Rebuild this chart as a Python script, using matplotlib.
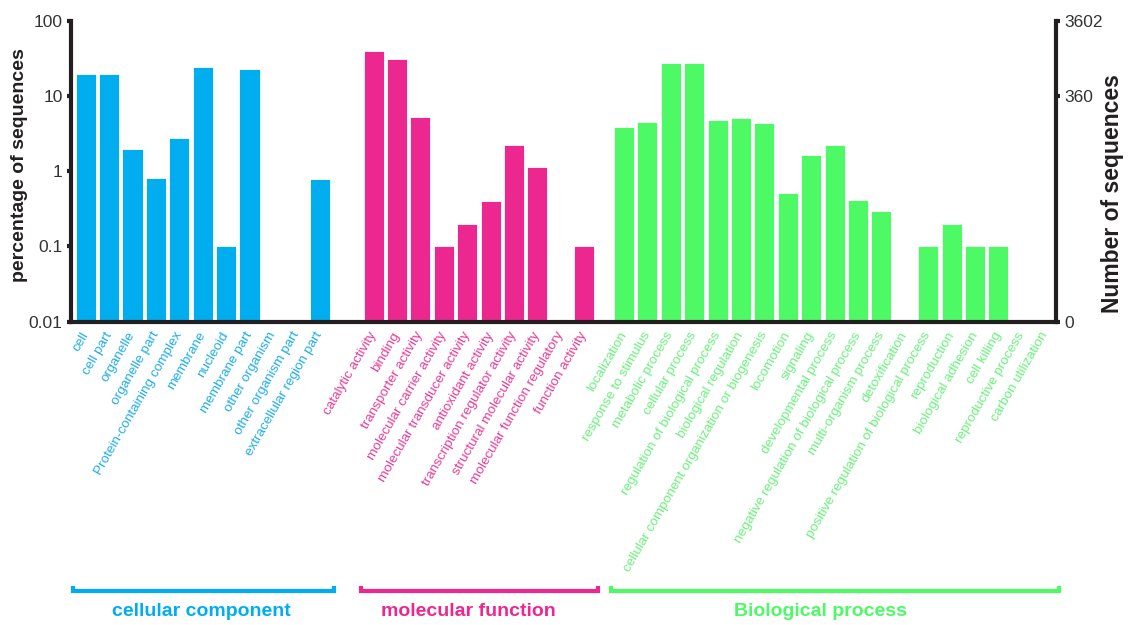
import numpy as np
import matplotlib
matplotlib.use("Agg")
import matplotlib.pyplot as plt
from matplotlib.transforms import blended_transform_factory, ScaledTranslation
from matplotlib.lines import Line2D

plt.rcParams['font.family'] = ['Liberation Sans', 'DejaVu Sans']

# GO categories (percentage of sequences); 0 means no sequences
cc_terms = ["cell", "cell part", "organelle", "organelle part",
            "Protein-containing complex", "membrane", "nucleoid",
            "membrane part", "other organism", "other organism part",
            "extracellular region part"]
cc_pct = [19.6, 19.3, 2.0, 0.82, 2.75, 24.6, 0.1, 22.7, 0, 0, 0.79]

mf_terms = ["catalytic activity", "binding", "transporter activity",
            "molecular carrier activity", "molecular transducer activity",
            "antioxidant activity", "transcription regulator activity",
            "structural molecular activity", "molecular function regulatory",
            "function activity"]
mf_pct = [40.1, 30.8, 5.2, 0.1, 0.2, 0.4, 2.24, 1.13, 0, 0.1]

bp_terms = ["localization", "response to stimulus", "metabolic process",
            "cellular process", "regulation of biological process",
            "biological regulation",
            "cellular component organization or biogenesis", "locomotion",
            "signaling", "developmental process",
            "negative regulation of biological process",
            "multi-organism process", "detoxification",
            "positive regulation of biological process", "reproduction",
            "biological adhesion", "cell killing", "reproductive process",
            "carbon utilization"]
bp_pct = [3.81, 4.49, 27.5, 27.5, 4.72, 5.07, 4.35, 0.52, 1.64, 2.22,
          0.41, 0.30, 0, 0.1, 0.2, 0.1, 0.1, 0, 0]

group_names = ["cellular component", "molecular function", "Biological process"]
group_colors = ["#00AEEF", "#EC2790", "#4EF966"]
label_colors = ["#1EAEE8", "#EC3A95", "#6AF27C"]
group_starts = [0.0, 12.3, 23.0]

total_sequences = 3602
left_ticks = [0.01, 0.1, 1, 10, 100]
left_ticklabels = ["0.01", "0.1", "1", "10", "100"]
right_ticks = [0.3602, 360.2, 3602]
right_ticklabels = ["0", "360", "3602"]

spine_color = "#231F20"
tick_text_color = "#333333"

W, H = 1135, 625
fig = plt.figure(figsize=(W / 100, H / 100), dpi=100)
ax = fig.add_axes([71 / W, 1 - 321.7 / H, (1056 - 71) / W, (321.7 - 20.7) / H])

groups = [(cc_terms, cc_pct), (mf_terms, mf_pct), (bp_terms, bp_pct)]
all_x, all_labels, all_label_colors = [], [], []
spans = []
for (terms, pct), start, color, lcolor in zip(groups, group_starts,
                                              group_colors, label_colors):
    x = start + np.arange(len(terms))
    pct = np.asarray(pct, dtype=float)
    mask = pct > 0
    ax.bar(x[mask], pct[mask], width=0.86, color=color,
           edgecolor="white", linewidth=0.6, zorder=2)
    all_x.extend(x)
    all_labels.extend(terms)
    all_label_colors.extend([lcolor] * len(terms))
    spans.append((x[0], x[-1]))

ax.set_yscale("log")
ax.set_ylim(0.01, 100)
ax.set_xlim(-0.63, 41.46)
ax.set_yticks(left_ticks)
ax.set_yticklabels(left_ticklabels, fontsize=12.5, color=tick_text_color)
ax.yaxis.set_minor_locator(matplotlib.ticker.NullLocator())
ax.tick_params(axis="y", length=3, width=3, color=spine_color, pad=3)

ax.set_xticks(all_x)
ax.set_xticklabels(all_labels, rotation=60, ha="right", va="center",
                   rotation_mode="anchor", fontsize=9.7)
shift = ScaledTranslation(7 / 100, 0, fig.dpi_scale_trans)
for lab, c in zip(ax.get_xticklabels(), all_label_colors):
    lab.set_color(c)
    lab.set_transform(lab.get_transform() + shift)
ax.tick_params(axis="x", length=0, pad=8)

for side in ["top", "right"]:
    ax.spines[side].set_visible(False)
for side in ["left", "bottom"]:
    ax.spines[side].set_linewidth(3)
    ax.spines[side].set_color(spine_color)

# right axis: number of sequences on the same log scale
ax2 = ax.twinx()
ax2.set_yscale("log")
ax2.set_ylim(0.01 * total_sequences / 100, total_sequences)
ax2.set_yticks(right_ticks)
ax2.set_yticklabels(right_ticklabels, fontsize=12.5, color=tick_text_color)
ax2.yaxis.set_minor_locator(matplotlib.ticker.NullLocator())
ax2.tick_params(axis="y", length=3, width=3, color=spine_color, pad=3)
for side in ["top", "left", "bottom"]:
    ax2.spines[side].set_visible(False)
ax2.spines["right"].set_linewidth(3)
ax2.spines["right"].set_color(spine_color)

# axis titles
fig.text(20 / W, 1 - 165 / H, "percentage of sequences", rotation=90,
         ha="center", va="center", fontsize=14, fontweight="bold",
         color="#231F20")
fig.text(1113 / W, 1 - 194 / H, "Number of sequences", rotation=90,
         ha="center", va="center", fontsize=16.5, fontweight="bold",
         color="#231F20")

# group brackets and names
trans = blended_transform_factory(ax.transData, fig.transFigure)
yb = 1 - 590.5 / H
up = 5 / H
for (x0, x1), color in zip(spans, group_colors):
    line = Line2D([x0 - 0.55, x0 - 0.55, x1 + 0.6, x1 + 0.6],
                  [yb + up, yb, yb, yb + up], transform=trans,
                  color=color, linewidth=3, solid_joinstyle="miter",
                  solid_capstyle="butt", clip_on=False)
    fig.add_artist(line)

name_x = [201, 468, 820]
for name, nx, color in zip(group_names, name_x, group_colors):
    fig.text(nx / W, 1 - 612 / H, name, ha="center", va="center",
             fontsize=14, fontweight="bold", color=color)

fig.savefig("out.png", dpi=100)
